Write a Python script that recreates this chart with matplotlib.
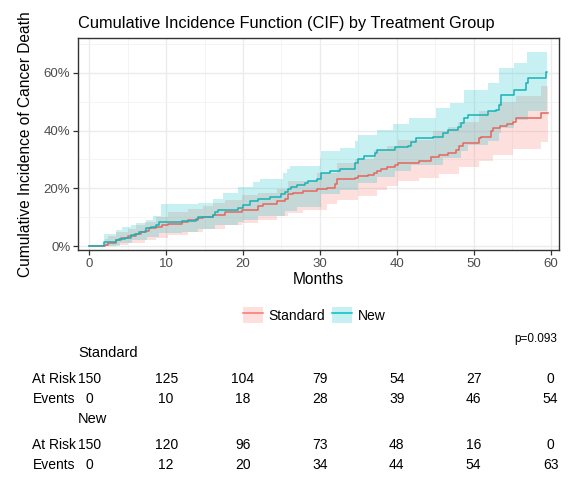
import numpy as np
import matplotlib
matplotlib.use("Agg")
import matplotlib.pyplot as plt
from matplotlib.patches import Patch
from matplotlib.lines import Line2D
from matplotlib.ticker import FuncFormatter, MultipleLocator

plt.rcParams['font.family'] = ['Liberation Sans', 'DejaVu Sans']

# --- data (months, CIF in %) ---
groups = ["Standard", "New"]

std_t = [0, 2.0, 2.4, 3.5, 4.1, 5.0, 6.1, 6.7, 7.2, 7.8, 8.7, 9.4, 10.2, 12.0, 12.8, 14.1, 14.8,
         16.1, 17.6, 19.8, 22.0, 22.6, 24.4, 25.4, 25.9, 26.5, 27.8, 29.6, 30.9, 32.0, 32.2, 34.6,
         35.0, 36.3, 37.0, 37.4, 38.0, 38.7, 39.8, 40.2, 42.9, 44.5, 45.5, 46.6, 47.7, 48.1, 48.6,
         50.7, 51.0, 52.2, 52.5, 53.4, 54.4, 55.1, 55.5, 58.8, 59.7]
std_cif = [0, 0.6, 1.2, 2.1, 2.7, 3.4, 4.2, 5.0, 5.4, 6.2, 6.8, 7.3, 7.6, 8.4, 8.9, 9.7, 10.1,
           10.9, 11.8, 12.6, 13.9, 14.5, 15.6, 16.4, 17.9, 18.5, 19.1, 19.7, 20.2, 21.4, 23.1, 23.7,
           24.3, 24.8, 25.4, 26.0, 26.6, 27.4, 28.0, 28.9, 29.6, 30.8, 31.6, 32.2, 33.3, 34.7, 35.6,
           37.3, 37.9, 39.7, 40.8, 41.6, 42.3, 43.1, 44.5, 46.2, 46.2]
std_hi_t = [0, 2.0, 2.4, 3.5, 5.0, 6.1, 7.2, 8.7, 10.2, 12.8, 14.8, 16.1, 17.6, 19.8, 22.0, 24.4,
            25.9, 29.6, 32.2, 34.6, 37.0, 38.7, 40.2, 44.7, 46.6, 47.9, 50.7, 53.3, 55.5, 58.8, 59.7]
std_hi = [0, 2.5, 3.5, 4.8, 6.0, 7.5, 8.5, 10.0, 12.0, 12.8, 14.0, 15.0, 16.0, 17.6, 18.5, 19.7,
          22.5, 25.4, 28.9, 30.0, 33.4, 34.6, 36.9, 39.7, 41.4, 43.1, 46.6, 50.0, 51.8, 55.3, 55.3]
std_lo_t = [0, 3.5, 5.0, 7.2, 8.7, 10.2, 12.8, 14.8, 17.6, 19.8, 22.0, 24.4, 25.9, 27.8, 30.9,
            32.2, 35.0, 37.4, 38.7, 40.2, 42.9, 45.5, 48.1, 50.7, 52.5, 55.1, 58.8, 59.7]
std_lo = [0, 0.3, 1.0, 2.2, 3.0, 4.0, 5.0, 6.0, 7.3, 8.0, 9.0, 10.3, 11.5, 12.5, 14.5,
          16.0, 17.5, 19.5, 21.0, 22.5, 23.5, 25.0, 27.5, 29.5, 31.5, 33.5, 36.2, 36.2]

new_t = [0, 1.9, 3.5, 3.9, 4.6, 5.4, 5.9, 6.5, 7.4, 8.0, 8.7, 9.1, 12.0, 13.9, 14.1, 16.1, 16.3,
         16.7, 19.4, 20.0, 20.9, 22.0, 23.5, 25.0, 25.4, 25.9, 26.3, 27.0, 28.0, 28.5, 29.6, 30.2,
         31.3, 32.6, 34.6, 35.0, 35.7, 37.2, 37.4, 39.8, 41.4, 41.9, 42.5, 44.7, 46.0, 46.6, 47.9,
         48.4, 48.8, 49.2, 51.8, 52.9, 53.3, 53.6, 55.2, 56.8, 57.1, 59.4, 59.6]
new_cif = [0, 1.4, 2.1, 2.6, 3.0, 3.9, 4.4, 5.0, 6.2, 6.8, 7.4, 8.3, 8.8, 9.4, 10.1, 10.9, 11.7,
           12.4, 13.2, 14.2, 15.6, 16.4, 17.1, 17.9, 18.9, 19.7, 20.5, 21.3, 22.0, 22.6, 23.4, 25.4,
           26.1, 26.6, 28.9, 30.2, 31.1, 32.3, 33.4, 34.2, 34.8, 36.2, 37.3, 37.9, 39.1, 40.2, 41.2,
           42.5, 44.3, 45.4, 46.6, 47.2, 48.9, 52.3, 54.1, 56.3, 58.0, 60.2, 60.2]
new_hi_t = [0, 1.9, 3.5, 4.3, 5.4, 6.1, 7.4, 8.3, 9.3, 14.1, 16.1, 17.4, 19.3, 21.3, 22.2, 25.2,
            25.7, 26.1, 30.0, 30.2, 32.6, 34.6, 35.0, 37.4, 39.5, 41.6, 45.1, 46.9, 48.8, 51.8,
            53.3, 55.3, 56.9, 59.6]
new_hi = [0, 4.2, 5.6, 6.8, 7.4, 8.0, 9.1, 10.3, 14.5, 15.0, 16.5, 18.5, 20.6, 22.2, 23.1, 25.4,
          26.8, 27.7, 30.6, 32.9, 33.9, 36.3, 38.6, 40.1, 42.1, 44.3, 47.7, 49.4, 54.0, 56.4,
          61.6, 63.4, 67.3, 67.3]
new_lo_t = [0, 2.5, 4.0, 5.5, 7.5, 9.1, 12.0, 14.1, 16.3, 19.4, 20.0, 22.0, 25.4, 27.0, 30.2,
            32.6, 35.0, 37.4, 39.8, 41.9, 46.0, 48.4, 49.2, 51.8, 53.3, 53.6, 55.2, 57.1, 59.6]
new_lo = [0, 0.2, 1.0, 2.0, 3.3, 4.5, 5.0, 6.0, 7.3, 8.5, 9.2, 10.5, 12.3, 13.5, 18.0,
          19.5, 22.0, 24.0, 26.0, 28.0, 30.5, 33.0, 35.0, 36.5, 39.0, 41.0, 43.5, 46.6, 46.6]

# risk table
table_times = [0, 10, 20, 30, 40, 50, 60]
std_at_risk = [150, 125, 104, 79, 54, 27, 0]
std_events = [0, 10, 18, 28, 39, 46, 54]
new_at_risk = [150, 120, 96, 73, 48, 16, 0]
new_events = [0, 12, 20, 34, 44, 54, 63]
p_text = "p=0.093"

colors = ["#F8766D", "#00BFC4"]
line_colors = ["#E5665E", "#17B2B5"]

W, H = 575, 483
fig = plt.figure(figsize=(W / 100, H / 100), dpi=100)

def frac(x0, y0, x1, y1):
    return [x0 / W, 1 - y1 / H, (x1 - x0) / W, (y1 - y0) / H]

ax = fig.add_axes(frac(78, 38, 559, 250))

series = [
    (std_t, std_cif, std_lo_t, std_lo, std_hi_t, std_hi),
    (new_t, new_cif, new_lo_t, new_lo, new_hi_t, new_hi),
]

for i, (t, c, lt, lo, ht, hi) in enumerate(series):
    # band: merge the two step series onto a common time grid
    grid = np.unique(np.concatenate([lt, ht]))
    lo_g = np.array(lo)[np.searchsorted(lt, grid, side="right") - 1] / 100
    hi_g = np.array(hi)[np.searchsorted(ht, grid, side="right") - 1] / 100
    ax.fill_between(grid, lo_g, hi_g, step="post", color=colors[i], alpha=0.22,
                    linewidth=0, zorder=2)
for i, (t, c, lt, lo, ht, hi) in enumerate(series):
    ax.step(t, np.array(c) / 100, where="post", color=line_colors[i], lw=1.1, zorder=3)

ax.set_xlim(-1.47, 61.1)
ax.set_ylim(-0.013, 0.72)
ax.xaxis.set_major_locator(MultipleLocator(10))
ax.xaxis.set_minor_locator(MultipleLocator(5))
ax.yaxis.set_major_locator(MultipleLocator(0.2))
ax.yaxis.set_minor_locator(MultipleLocator(0.1))
ax.yaxis.set_major_formatter(FuncFormatter(lambda v, p: f"{v * 100:.0f}%"))
ax.grid(which="major", color="#EBEBEB", lw=1.0, zorder=0)
ax.grid(which="minor", color="#F2F2F2", lw=0.6, zorder=0)
ax.set_axisbelow(True)
for s in ax.spines.values():
    s.set_color("#333333")
    s.set_linewidth(1.0)
ax.tick_params(which="major", length=3.5, width=0.9, color="#333333",
               labelcolor="#4D4D4D", labelsize=9.5, pad=2)
ax.tick_params(which="minor", length=0)

ax.set_title("Cumulative Incidence Function (CIF) by Treatment Group", loc="left",
             fontsize=11.8, pad=7, color="black")
ax.set_xlabel("Months", fontsize=11.2, labelpad=1.5)
ax.set_ylabel("Cumulative Incidence of Cancer Death", fontsize=11.2, labelpad=8)

# legend
handles = []
for i in range(2):
    handles.append((Patch(facecolor=colors[i], alpha=0.22, edgecolor="none"),
                    Line2D([], [], color=colors[i], lw=1.1)))
fig.legend(handles, groups, loc="center", bbox_to_anchor=(314 / W, 1 - 315 / H),
           ncol=2, frameon=False, fontsize=10, handlelength=1.45, handleheight=1.45,
           handletextpad=0.4, columnspacing=0.5, borderaxespad=0)

fig.text(557 / W, 1 - 339 / H, p_text, ha="right", va="center", fontsize=8.5)

# risk table, sharing the x scale of the plot
tab = fig.add_axes(frac(78, 340, 559, 483))
tab.set_xlim(ax.get_xlim())
tab.set_ylim(483, 340)
tab.axis("off")

blocks = [
    ("Standard", std_at_risk, std_events, 353),
    ("New", new_at_risk, new_events, 419),
]
for name, risk, ev, y0 in blocks:
    tab.text(0.0, y0, name, transform=tab.get_yaxis_transform(), ha="left",
             va="center", fontsize=10.5)
    for label, vals, y in [("At Risk", risk, y0 + 26), ("Events", ev, y0 + 46)]:
        tab.text(-0.005, y, label, transform=tab.get_yaxis_transform(), ha="right",
                 va="center", fontsize=10)
        for tt, v in zip(table_times, vals):
            tab.text(tt, y, str(v), ha="center", va="center", fontsize=10)

fig.savefig("out.png", dpi=100)
